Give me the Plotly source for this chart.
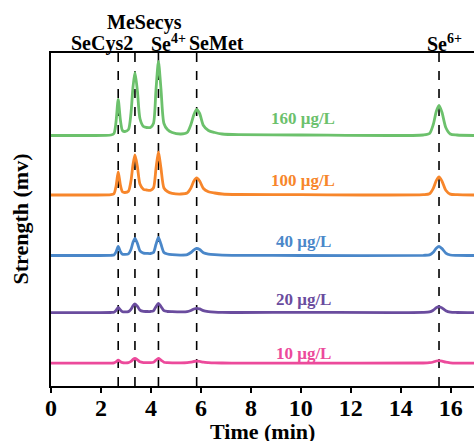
import plotly.graph_objects as go

# Retention time grid (min)
time_min = [0, 1.5, 2.4, 2.52, 2.6, 2.69, 2.78, 2.86, 2.96, 3.1, 3.2, 3.28, 3.36, 3.46,
            3.56, 3.7, 3.83, 3.98, 4.1, 4.2, 4.3, 4.4, 4.52, 4.66, 4.85, 5.2, 5.45,
            5.6, 5.72, 5.83, 5.95, 6.1, 6.3, 6.55, 6.85, 7.5, 10, 14.9, 15.15, 15.3,
            15.42, 15.53, 15.65, 15.8, 15.98, 16.25, 17]

sig_160 = [0, 0, 0.5, 2, 13, 36, 15, 5, 4, 6, 22, 48, 63, 44,
           17, 9, 8, 8, 12, 45, 74, 47, 12, 6, 3, 1.5, 3,
           11, 21, 26, 22, 10, 5, 3, 1.5, 0.8, 0.5, 0.5, 2, 11,
           24, 30, 23, 8, 1.5, 0.5, 0]
sig_100 = [0, 0, 0.3, 1.3, 8.3, 23, 9.6, 3.2, 2.5, 3.8, 14, 30, 40, 28,
           11, 5.7, 5, 4.7, 7, 26, 43, 27, 7, 3.5, 1.7, 1, 2,
           7, 14, 17, 14, 6.5, 3.3, 2, 1, 0.5, 0.3, 0.3, 1.2, 6.6,
           14.4, 18, 13.8, 4.8, 0.9, 0.3, 0]
sig_40 = [0, 0, 0.2, 0.5, 3.3, 9, 3.8, 1.3, 1.1, 1.6, 6, 13, 17, 12,
          4.6, 2.4, 2.2, 2, 3, 11, 18, 11.4, 3, 1.5, 0.8, 0.4, 0.8,
          3, 5.7, 7, 6, 2.7, 1.4, 0.8, 0.4, 0.2, 0, 0.2, 0.6, 3.3,
          7.2, 9, 6.9, 2.4, 0.5, 0.2, 0]
sig_20 = [0, 0, 0.2, 0.5, 2.2, 5.4, 2.6, 1, 0.8, 1.1, 3.3, 6.8, 8.7, 6.3,
          2.6, 1.3, 1.2, 1.2, 1.8, 6, 9.4, 6.2, 2, 1.2, 1, 0.8, 1,
          2.2, 3.7, 4.4, 3.8, 2, 1.1, 0.6, 0.3, 0.2, 0.3, 0.3, 0.8, 2.5,
          4.9, 6, 4.7, 2, 0.6, 0.2, 0]
sig_10 = [0, 0, 0.1, 0.3, 1.3, 3, 1.5, 0.6, 0.4, 0.6, 1.8, 3.7, 4.7, 3.4,
          1.4, 0.6, 0.5, 0.5, 0.9, 3, 4.7, 3.1, 1, 0.6, 0.4, 0.3, 0.5,
          1, 1.7, 2, 1.8, 1, 0.6, 0.3, 0.2, 0.1, 0, 0.2, 0.5, 1.2,
          2.2, 2.6, 2.1, 1, 0.4, 0.1, 0]

series_names = ["160 μg/L", "100 μg/L", "40 μg/L", "20 μg/L", "10 μg/L"]
series_values = [sig_160, sig_100, sig_40, sig_20, sig_10]
series_offsets = [250.5, 191, 130.5, 73.3, 22.8]
series_colors = ["#6cc16c", "#f7862b", "#4a87c9", "#6a4c9e", "#ec4a9b"]
label_shift = [17, 15, 14, 13, 10]

peak_times = [2.69, 3.36, 4.30, 5.83, 15.53]
peak_labels = ["SeCys2", "MeSecys", "Se<sup>4+</sup>", "SeMet", "Se<sup>6+</sup>"]
peak_label_x = [2.03, 3.76, 4.70, 6.63, 15.75]
peak_label_shift = [10, 31, 10, 10, 10]

FONT = "Liberation Serif"

fig = go.Figure()
for t in peak_times:
    fig.add_shape(type="line", x0=t, x1=t, y0=0, y1=1, xref="x", yref="paper",
                  line=dict(color="black", width=1.6, dash="dash"), layer="below")

for name, vals, off, col, ls in zip(series_names, series_values, series_offsets,
                                    series_colors, label_shift):
    fig.add_trace(go.Scatter(
        x=time_min, y=[v + off for v in vals], mode="lines",
        line=dict(color=col, width=2.8, shape="spline", smoothing=0.7),
        name=name, showlegend=False, hoverinfo="skip"))
    fig.add_annotation(x=10.1, y=off, yshift=ls, text=name, showarrow=False,
                       xanchor="center", yanchor="middle",
                       font=dict(family=FONT, size=17, color=col, weight="bold"))

for lab, lx, ys in zip(peak_labels, peak_label_x, peak_label_shift):
    fig.add_annotation(x=lx, y=1, yref="paper", yshift=ys, text=lab, showarrow=False,
                       xanchor="center", yanchor="middle",
                       font=dict(family=FONT, size=20, color="black", weight="bold"))

fig.add_annotation(x=0.5, xref="paper", y=0, yref="paper", yshift=-45,
                   text="Time (min)", showarrow=False, xanchor="center", yanchor="middle",
                   font=dict(family=FONT, size=22, color="black", weight="bold"))
fig.add_annotation(x=0, xref="paper", xshift=-31, y=0.5, yref="paper",
                   text="Strength (mv)", textangle=-90, showarrow=False,
                   xanchor="center", yanchor="middle",
                   font=dict(family=FONT, size=22, color="black", weight="bold"))

fig.update_layout(
    width=474, height=441,
    margin=dict(l=51, r=0, t=53, b=55),
    paper_bgcolor="white", plot_bgcolor="white",
    font=dict(family=FONT, color="black", weight="bold"),
    xaxis=dict(range=[0, 16.93], dtick=2, tick0=0, showgrid=False, zeroline=False,
               automargin=False, ticklabelstandoff=-6,
               showline=True, linecolor="black", linewidth=2, mirror=True,
               ticks="outside", ticklen=5, tickwidth=2, tickcolor="black",
               tickfont=dict(family=FONT, size=24, color="black", weight="bold")),
    yaxis=dict(range=[0, 333], showgrid=False, zeroline=False, showticklabels=False,
               automargin=False,
               ticks="", showline=True, linecolor="black", linewidth=2),
)

fig.write_html("out.html", config={"displayModeBar": False},
               post_script="document.body.style.margin='0px';document.body.style.overflow='hidden';")
